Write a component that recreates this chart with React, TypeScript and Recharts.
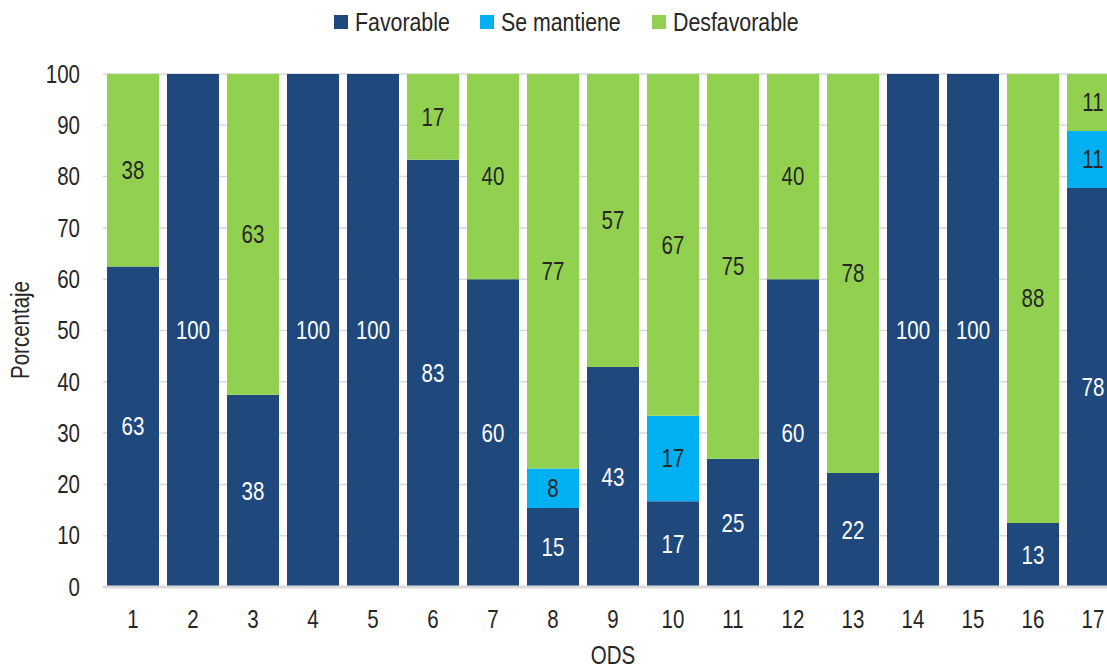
import React from "react";
import { BarChart, Bar, XAxis, YAxis, CartesianGrid, LabelList } from "recharts";

const categories = ["1","2","3","4","5","6","7","8","9","10","11","12","13","14","15","16","17"];
const favorable = [62.5, 100, 37.5, 100, 100, 83.3, 60, 15.4, 42.9, 16.7, 25, 60, 22.2, 100, 100, 12.5, 77.8];
const seMantiene = [0, 0, 0, 0, 0, 0, 0, 7.7, 0, 16.7, 0, 0, 0, 0, 0, 0, 11.1];
const desfavorable = [37.5, 0, 62.5, 0, 0, 16.7, 40, 76.9, 57.1, 66.6, 75, 40, 77.8, 0, 0, 87.5, 11.1];
const yTicks = [0, 10, 20, 30, 40, 50, 60, 70, 80, 90, 100];

const data = categories.map((c, i) => ({
  ods: c,
  fav: favorable[i],
  sm: seMantiene[i],
  des: desfavorable[i],
}));

const FONT = "'Liberation Sans', Arial, sans-serif";
const SX = 0.82;
const BLUE = "#1F497D";
const CYAN = "#00B0F0";
const GREEN = "#92D050";
const TEXT = "#262626";

const legendItems = [
  { label: "Favorable", color: BLUE, sq: 334 },
  { label: "Se mantiene", color: CYAN, sq: 480 },
  { label: "Desfavorable", color: GREEN, sq: 652 },
];

const NarrowText = ({ x, y, anchor, fill, size, children }: any) => (
  <text
    transform={`translate(${x},${y}) scale(${SX},1)`}
    x={0}
    y={0}
    textAnchor={anchor}
    dominantBaseline="central"
    fill={fill}
    fontFamily={FONT}
    fontSize={size}
  >
    {children}
  </text>
);

const YTick = (props: any) => {
  const { y, payload } = props;
  return <NarrowText x={80} y={y} anchor="end" fill={TEXT} size={25}>{payload.value}</NarrowText>;
};

const XTick = (props: any) => {
  const { x, payload } = props;
  return <NarrowText x={x} y={619} anchor="middle" fill={TEXT} size={25}>{payload.value}</NarrowText>;
};

const makeLabel = (color: string) => (props: any) => {
  const { x, y, width, height, value } = props;
  if (!value) return null;
  return (
    <NarrowText x={Number(x) + Number(width) / 2} y={Number(y) + Number(height) / 2} anchor="middle" fill={color} size={25}>
      {Math.round(Number(value))}
    </NarrowText>
  );
};

const narrowSpan = (text: string, style: any) => (
  <span style={{ position: "absolute", whiteSpace: "nowrap", fontFamily: FONT, color: TEXT, transformOrigin: "left center", ...style }}>
    {text}
  </span>
);

export default function App() {
  return (
    <div style={{ position: "absolute", left: 0, top: 0, width: 1107, height: 669, overflow: "hidden", background: "#fff" }}>
      <BarChart
        width={1130}
        height={669}
        data={data}
        margin={{ top: 74, right: 7, bottom: 0, left: 0 }}
        barSize={52}
      >
        <CartesianGrid vertical={false} stroke="#d9d9d9" strokeWidth={1.5} />
        <XAxis
          dataKey="ods"
          tickLine={false}
          axisLine={{ stroke: "#d9d9d9", strokeWidth: 3 }}
          tick={<XTick />}
          height={82}
        />
        <YAxis
          width={103}
          domain={[0, 100]}
          ticks={yTicks}
          interval={0}
          tickLine={false}
          axisLine={false}
          tick={<YTick />}
        />
        <Bar dataKey="fav" stackId="a" fill={BLUE} isAnimationActive={false}>
          <LabelList dataKey="fav" content={makeLabel("#ffffff")} />
        </Bar>
        <Bar dataKey="sm" stackId="a" fill={CYAN} isAnimationActive={false}>
          <LabelList dataKey="sm" content={makeLabel(TEXT)} />
        </Bar>
        <Bar dataKey="des" stackId="a" fill={GREEN} isAnimationActive={false}>
          <LabelList dataKey="des" content={makeLabel(TEXT)} />
        </Bar>
      </BarChart>

      {legendItems.map((it) => (
        <React.Fragment key={it.label}>
          <div style={{ position: "absolute", left: it.sq, top: 15, width: 14, height: 14, background: it.color }} />
          {narrowSpan(it.label, { left: it.sq + 21, top: 7, fontSize: 26, lineHeight: "30px", transform: `scaleX(${SX})` })}
        </React.Fragment>
      ))}

      <div
        style={{
          position: "absolute",
          left: 20,
          top: 330,
          transform: `translate(-50%, -50%) rotate(-90deg) scaleX(${SX})`,
          fontFamily: FONT,
          fontSize: 25,
          color: TEXT,
          whiteSpace: "nowrap",
          lineHeight: "28px",
        }}
      >
        Porcentaje
      </div>
      <div
        style={{
          position: "absolute",
          left: 613,
          top: 655,
          transform: `translate(-50%, -50%) scaleX(${SX})`,
          fontFamily: FONT,
          fontSize: 25,
          color: TEXT,
          whiteSpace: "nowrap",
          lineHeight: "26px",
        }}
      >
        ODS
      </div>
    </div>
  );
}
